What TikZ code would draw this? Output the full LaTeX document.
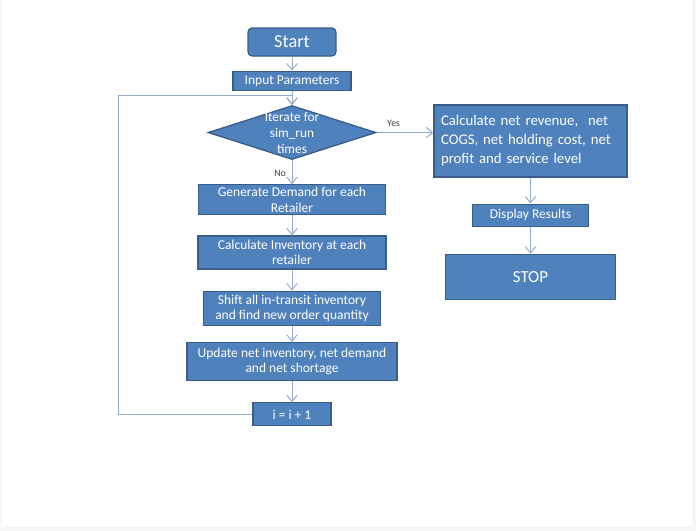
\documentclass[tikz,border=0pt]{standalone}
\usepackage{fontspec}
\setmainfont{Carlito}
\usetikzlibrary{arrows.meta, positioning, shapes.geometric}
\definecolor{fcblue}{RGB}{79,129,189}
\definecolor{fcedge}{RGB}{56,93,138}
\definecolor{fcline}{RGB}{150,172,202}
\definecolor{fctext}{RGB}{64,64,64}
\definecolor{fcframe}{RGB}{246,246,246}
\tikzset{
    box/.style={draw=fcedge, line width=0.9pt, fill=fcblue, text=white, align=center,
                font=\fontsize{9.6}{11}\selectfont, inner sep=1pt},
    term/.style={box, rounded corners=3pt, font=\fontsize{13}{15}\selectfont},
    decision/.style={diamond, draw=fcedge, line width=0.9pt, fill=fcblue, inner sep=0pt},
    dtext/.style={text=white, align=center, font=\fontsize{9.5}{11.4}\selectfont, inner sep=0pt},
    arrow/.style={-{Straight Barb[length=1.6mm, width=2.6mm]}, fcline, line width=0.7pt},
    lbl/.style={font=\fontsize{7}{8}\selectfont, text=fctext, inner sep=2pt},
}

\begin{document}
\begin{tikzpicture}
    \useasboundingbox (0,0) rectangle (17.4,-13.275);
    \fill[fcframe] (0,0) rectangle (17.4,-13.275);
    \fill[white] (0.05,0) rectangle (17.3,-13.15);

    % main loop
    \node[term, minimum width=2.2cm, minimum height=0.7cm] (start) at (7.3,-1.05) {Start};
    \node[box, minimum width=2.95cm, minimum height=0.475cm, below=0.35cm of start] (input) {Input Parameters};
    \node[decision, minimum width=4.2cm, minimum height=1.35cm, below=0.35cm of input] (dia) {};
    \node[dtext] (diatext) at (dia) {Iterate for\\sim\_run\\times};
    \node[box, minimum width=4.675cm, minimum height=0.75cm, below=0.6cm of dia] (gen) {Generate Demand for each\\Retailer};
    \node[box, minimum width=4.7cm, minimum height=0.825cm, below=0.5cm of gen] (inv) {Calculate Inventory at each\\retailer};
    \node[box, minimum width=4.425cm, minimum height=0.85cm, below=0.525cm of inv] (shift) {Shift all in-transit inventory\\and find new order quantity};
    \node[box, minimum width=5.25cm, minimum height=0.95cm, below=0.4cm of shift] (upd) {Update net inventory, net demand\\and net shortage};
    \node[box, minimum width=1.95cm, minimum height=0.575cm, below=0.525cm of upd] (inc) {i = i + 1};

    % results
    \node[box, minimum width=4.825cm, minimum height=1.8cm, text width=4.475cm, align=left, inner xsep=0pt,
          font=\fontsize{10.5}{13.5}\selectfont] (calc) at (13.2625,-3.525)
          {Calculate net revenue,\ \ net COGS, net holding cost, net profit and service level};
    \node[box, minimum width=2.9cm, minimum height=0.55cm, below=0.65cm of calc] (disp) {Display Results};
    \node[box, minimum width=4.25cm, minimum height=1.125cm, below=0.675cm of disp,
          font=\fontsize{12}{14}\selectfont] (stop) {STOP};

    \coordinate (loop) at (2.95,-2.375);

    \draw[arrow] (start) -- (input);
    \draw[arrow] (input) -- (dia);
    \draw[arrow] (dia) -- node[lbl, left, pos=0.55, xshift=-2pt] {No} (gen);
    \draw[arrow] (gen) -- (inv);
    \draw[arrow] (inv) -- (shift);
    \draw[arrow] (shift) -- (upd);
    \draw[arrow] (upd) -- (inc);
    \draw[arrow] (inc.west) -| (loop) -| (dia.north);
    \draw[arrow] (dia.east) -- node[lbl, above, pos=0.3, yshift=2pt] {Yes} (dia.east -| calc.west);
    \draw[arrow] (calc) -- (disp);
    \draw[arrow] (disp) -- (stop);
\end{tikzpicture}
\end{document}
